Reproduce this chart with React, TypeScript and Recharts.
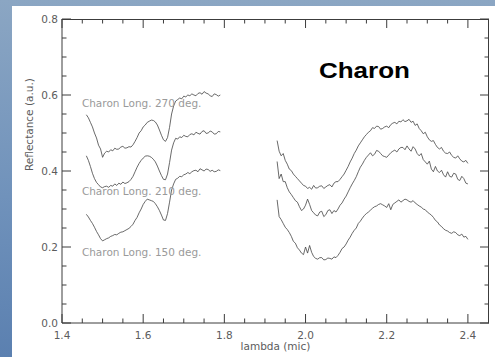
import React from "react";
import {
  LineChart,
  Line,
  XAxis,
  YAxis,
  ReferenceDot,
} from "recharts";

// wavelength grids (micron) for the H band and K band pieces
const H_LAMBDA = [
  1.46, 1.465, 1.47, 1.475, 1.48, 1.485, 1.49, 1.495, 1.5, 1.505,
  1.51, 1.515, 1.52, 1.525, 1.53, 1.535, 1.54, 1.545, 1.55, 1.555,
  1.56, 1.565, 1.57, 1.575, 1.58, 1.585, 1.59, 1.595, 1.6, 1.605,
  1.61, 1.615, 1.62, 1.625, 1.63, 1.635, 1.64, 1.645, 1.65, 1.655,
  1.66, 1.665, 1.67, 1.675, 1.68, 1.685, 1.69, 1.695, 1.7, 1.705,
  1.71, 1.715, 1.72, 1.725, 1.73, 1.735, 1.74, 1.745, 1.75, 1.755,
  1.76, 1.765, 1.77, 1.775, 1.78, 1.785, 1.79,
];
const K_LAMBDA = [
  1.93, 1.935, 1.94, 1.945, 1.95, 1.955, 1.96, 1.965, 1.97, 1.975,
  1.98, 1.985, 1.99, 1.995, 2.0, 2.005, 2.01, 2.015, 2.02, 2.025,
  2.03, 2.035, 2.04, 2.045, 2.05, 2.055, 2.06, 2.065, 2.07, 2.075,
  2.08, 2.085, 2.09, 2.095, 2.1, 2.105, 2.11, 2.115, 2.12, 2.125,
  2.13, 2.135, 2.14, 2.145, 2.15, 2.155, 2.16, 2.165, 2.17, 2.175,
  2.18, 2.185, 2.19, 2.195, 2.2, 2.205, 2.21, 2.215, 2.22, 2.225,
  2.23, 2.235, 2.24, 2.245, 2.25, 2.255, 2.26, 2.265, 2.27, 2.275,
  2.28, 2.285, 2.29, 2.295, 2.3, 2.305, 2.31, 2.315, 2.32, 2.325,
  2.33, 2.335, 2.34, 2.345, 2.35, 2.355, 2.36, 2.365, 2.37, 2.375,
  2.38, 2.385, 2.39, 2.395, 2.4,
];

// reflectance, longitude 270 (top spectrum)
const H_270 = [
  0.548, 0.54, 0.528, 0.516, 0.5, 0.487, 0.468, 0.458, 0.436, 0.447,
  0.452, 0.45, 0.456, 0.453, 0.46, 0.457, 0.458, 0.463, 0.465, 0.46,
  0.461, 0.464, 0.463, 0.469, 0.478, 0.488, 0.5, 0.506, 0.516, 0.521,
  0.528, 0.531, 0.534, 0.533, 0.529, 0.521, 0.508, 0.494, 0.482, 0.478,
  0.488, 0.515, 0.55, 0.571, 0.584, 0.588, 0.592, 0.59, 0.597, 0.595,
  0.6, 0.598, 0.603, 0.6, 0.598, 0.604, 0.606, 0.602, 0.609, 0.605,
  0.603, 0.598, 0.596, 0.603, 0.601, 0.597, 0.6,
];
const K_270 = [
  0.48, 0.452, 0.44, 0.446, 0.428, 0.418, 0.405, 0.401, 0.392, 0.386,
  0.38, 0.374, 0.368, 0.362, 0.36, 0.354, 0.357, 0.352, 0.362, 0.355,
  0.356, 0.36, 0.361, 0.354, 0.358, 0.362, 0.364, 0.358, 0.368, 0.372,
  0.372, 0.378, 0.385, 0.392, 0.402, 0.412, 0.424, 0.434, 0.446, 0.455,
  0.466, 0.474, 0.482, 0.49, 0.496, 0.502, 0.506, 0.514, 0.512, 0.518,
  0.517, 0.51, 0.512, 0.516, 0.518, 0.514, 0.522, 0.526, 0.528, 0.524,
  0.531, 0.529, 0.535, 0.53, 0.532, 0.536, 0.528, 0.531, 0.52, 0.524,
  0.512, 0.506, 0.498, 0.502, 0.49, 0.482, 0.478, 0.48, 0.47, 0.462,
  0.458, 0.462, 0.452, 0.447, 0.446, 0.45, 0.441, 0.436, 0.434, 0.44,
  0.432, 0.426, 0.424, 0.428, 0.42,
];

// reflectance, longitude 210
const H_210 = [
  0.44, 0.428, 0.412, 0.394, 0.38, 0.37, 0.364, 0.358, 0.356, 0.359,
  0.36, 0.357, 0.362, 0.36, 0.366, 0.362, 0.368, 0.365, 0.371, 0.367,
  0.369, 0.372, 0.378, 0.386, 0.398, 0.41, 0.42, 0.428, 0.434, 0.439,
  0.44, 0.439, 0.436, 0.431, 0.424, 0.413, 0.4, 0.388, 0.378, 0.377,
  0.392, 0.422, 0.455, 0.474, 0.486, 0.484, 0.49, 0.488, 0.494, 0.491,
  0.49, 0.496, 0.498, 0.495, 0.502, 0.499, 0.497, 0.504, 0.506, 0.499,
  0.5, 0.505, 0.503, 0.497, 0.498, 0.504, 0.503,
];
const K_210 = [
  0.425, 0.38, 0.392, 0.372, 0.372, 0.356, 0.345, 0.338, 0.33, 0.322,
  0.318, 0.306, 0.296, 0.3, 0.31, 0.326, 0.312, 0.296, 0.29, 0.284,
  0.282, 0.292, 0.294, 0.28, 0.285, 0.296, 0.298, 0.288, 0.296, 0.292,
  0.3, 0.31, 0.316, 0.326, 0.334, 0.345, 0.356, 0.366, 0.375, 0.385,
  0.398, 0.41, 0.418, 0.428, 0.436, 0.442, 0.448, 0.44, 0.444, 0.454,
  0.452, 0.446, 0.44, 0.438, 0.436, 0.442, 0.448, 0.452, 0.455, 0.45,
  0.458, 0.462, 0.462, 0.456, 0.466, 0.458, 0.452, 0.464, 0.458, 0.446,
  0.44, 0.446, 0.43, 0.424, 0.418, 0.426, 0.405, 0.398, 0.412, 0.4,
  0.396, 0.402, 0.39, 0.384, 0.398, 0.386, 0.384, 0.394, 0.392, 0.378,
  0.375, 0.386, 0.38, 0.368, 0.366,
];

// reflectance, longitude 150 (bottom spectrum)
const H_150 = [
  0.286, 0.279, 0.27, 0.262, 0.252, 0.241, 0.232, 0.222, 0.216, 0.219,
  0.222, 0.224, 0.228, 0.23, 0.233, 0.232, 0.236, 0.239, 0.24, 0.243,
  0.246, 0.249, 0.254, 0.26, 0.27, 0.278, 0.29, 0.3, 0.312, 0.32,
  0.326, 0.324, 0.322, 0.32, 0.314, 0.306, 0.296, 0.284, 0.271, 0.27,
  0.288, 0.318, 0.35, 0.366, 0.378, 0.381, 0.386, 0.385, 0.39, 0.392,
  0.396, 0.393, 0.398, 0.401, 0.402, 0.398, 0.406, 0.403, 0.4, 0.405,
  0.404, 0.399, 0.402, 0.398, 0.399, 0.403, 0.401,
];
const K_150 = [
  0.324, 0.28, 0.272, 0.262, 0.252, 0.246, 0.238, 0.228, 0.215, 0.21,
  0.198, 0.192, 0.184, 0.18, 0.2, 0.184, 0.204, 0.186, 0.175, 0.17,
  0.168, 0.172, 0.172, 0.166, 0.167, 0.171, 0.17, 0.168, 0.174, 0.172,
  0.178, 0.186, 0.196, 0.2, 0.208, 0.218, 0.226, 0.236, 0.244, 0.25,
  0.262, 0.268, 0.276, 0.283, 0.288, 0.292, 0.297, 0.302, 0.306, 0.308,
  0.312, 0.314, 0.311, 0.308, 0.304, 0.314, 0.298, 0.312, 0.316, 0.32,
  0.324, 0.318, 0.322, 0.326, 0.324, 0.32, 0.318, 0.322, 0.316, 0.312,
  0.308, 0.305, 0.3, 0.298, 0.292, 0.288, 0.284, 0.278, 0.27, 0.266,
  0.258, 0.254, 0.248, 0.244, 0.242, 0.238, 0.236, 0.24, 0.238, 0.232,
  0.23, 0.234, 0.226, 0.228, 0.22,
];

const X_TICKS = [
  1.4, 1.45, 1.5, 1.55, 1.6, 1.65, 1.7, 1.75, 1.8, 1.85, 1.9, 1.95, 2.0,
  2.05, 2.1, 2.15, 2.2, 2.25, 2.3, 2.35, 2.4,
];
const Y_TICKS = [
  0, 0.05, 0.1, 0.15, 0.2, 0.25, 0.3, 0.35, 0.4, 0.45, 0.5, 0.55, 0.6, 0.65,
  0.7, 0.75, 0.8,
];

const LABELS = [
  { text: "Charon Long. 270 deg.", x: 1.449, y: 0.568 },
  { text: "Charon Long. 210 deg.", x: 1.449, y: 0.337 },
  { text: "Charon Long. 150 deg.", x: 1.449, y: 0.176 },
];

const rows = [
  ...H_LAMBDA.map((lambda, i) => ({
    lambda,
    l270: H_270[i],
    l210: H_210[i],
    l150: H_150[i],
  })),
  // break between the two bands
  { lambda: 1.86, l270: null, l210: null, l150: null },
  ...K_LAMBDA.map((lambda, i) => ({
    lambda,
    l270: K_270[i],
    l210: K_210[i],
    l150: K_150[i],
  })),
];

const X_DOMAIN = [1.4, 2.452];
const Y_DOMAIN = [0, 0.8];

// chart geometry, used to mirror the ticks onto the top and right edges
const W = 495;
const H = 357;
const MARGIN = { top: 19, right: 6, bottom: 4, left: 12 };
const X_AXIS_H = 30;
const Y_AXIS_W = 50;
const PLOT_LEFT = MARGIN.left + Y_AXIS_W;
const PLOT_W = W - PLOT_LEFT - MARGIN.right;
const PLOT_H = H - MARGIN.top - MARGIN.bottom - X_AXIS_H;

const AXIS = "#3c3c3c";
const TEXT = "#5c5c5c";
const FONT = "'DejaVu Sans', sans-serif";

const isMajor = (v: number) => Math.abs(v * 5 - Math.round(v * 5)) < 1e-6;
const tickLen = (v: number) => (isMajor(v) ? 9 : 4.5);

// IDL style ticks: pointing into the plot on both edges, long on labelled values
const XTick = (props: any) => {
  const { x, y, payload } = props;
  const len = tickLen(payload.value);
  const top = y - PLOT_H;
  return (
    <g>
      <path d={`M${x},${y}V${y - len}M${x},${top}V${top + len}`} stroke={AXIS} strokeWidth={1} fill="none" />
      {isMajor(payload.value) && (
        <text x={x} y={y + 16} textAnchor="middle" fill={TEXT} fontSize={10.5} fontFamily={FONT}>
          {payload.value.toFixed(1)}
        </text>
      )}
    </g>
  );
};

const YTick = (props: any) => {
  const { x, y, payload } = props;
  const len = tickLen(payload.value);
  const right = x + PLOT_W;
  return (
    <g>
      <path d={`M${x},${y}H${x + len}M${right},${y}H${right - len}`} stroke={AXIS} strokeWidth={1} fill="none" />
      {isMajor(payload.value) && (
        <text x={x - 4} y={y + 4} textAnchor="end" fill={TEXT} fontSize={10.5} fontFamily={FONT}>
          {payload.value.toFixed(1)}
        </text>
      )}
    </g>
  );
};

const annotation = (fill: string, size: number, bold?: boolean, len?: number) =>
  (props: any) => {
    const { viewBox, value } = props;
    return (
      <text
        x={viewBox.x}
        y={viewBox.y}
        fill={fill}
        fontSize={size}
        fontWeight={bold ? "bold" : "normal"}
        fontFamily={bold ? "'Liberation Sans', Arial, sans-serif" : FONT}
        textLength={len}
        lengthAdjust={len ? "spacingAndGlyphs" : undefined}
      >
        {value}
      </text>
    );
  };

export default function App() {
  return (
    <div
      style={{
        position: "fixed",
        left: 0,
        top: 0,
        width: W,
        height: H,
        background: "linear-gradient(180deg, #8ba6c3 0%, #7092bb 55%, #5b80b0 100%)",
        overflow: "hidden",
      }}
    >
      <div
        style={{
          position: "absolute",
          left: 12,
          top: 6,
          width: W - 12,
          height: H - 6,
          background: "#fff",
        }}
      />
      <div style={{ position: "absolute", left: 0, top: 0 }}>
        <LineChart width={W} height={H} data={rows} margin={MARGIN}>
          <XAxis
            dataKey="lambda"
            type="number"
            domain={X_DOMAIN}
            ticks={X_TICKS}
            interval={0}
            allowDataOverflow
            stroke={AXIS}
            tickSize={0}
            tickMargin={0}
            tickLine={false}
            height={X_AXIS_H}
            tick={<XTick />}
            label={{
              value: "lambda (mic)",
              position: "insideBottom",
              offset: 3,
              fill: TEXT,
              fontSize: 10.5,
              fontFamily: FONT,
            }}
          />
          <YAxis
            type="number"
            domain={Y_DOMAIN}
            ticks={Y_TICKS}
            interval={0}
            stroke={AXIS}
            tickSize={0}
            tickMargin={0}
            tickLine={false}
            width={Y_AXIS_W}
            tick={<YTick />}
            label={{
              value: "Reflectance (a.u.)",
              angle: -90,
              position: "insideLeft",
              offset: 17,
              fill: TEXT,
              fontSize: 10.5,
              fontFamily: FONT,
            }}
          />
          <Line dataKey="l270" type="linear" stroke="#444" strokeWidth={0.8} dot={false} isAnimationActive={false} />
          <Line dataKey="l210" type="linear" stroke="#444" strokeWidth={0.8} dot={false} isAnimationActive={false} />
          <Line dataKey="l150" type="linear" stroke="#444" strokeWidth={0.8} dot={false} isAnimationActive={false} />
          {LABELS.map((l) => (
            <ReferenceDot
              key={l.text}
              x={l.x}
              y={l.y}
              r={0}
              fill="none"
              stroke="none"
              label={{ value: l.text, content: annotation("#9a9a9a", 10.5) }}
            />
          ))}
          <ReferenceDot
            x={2.033}
            y={0.6455}
            r={0}
            fill="none"
            stroke="none"
            label={{ value: "Charon", content: annotation("#000", 22, true, 91) }}
          />
        </LineChart>
      </div>
      {/* top and right edges of the plot box */}
      <div
        style={{
          position: "absolute",
          left: PLOT_LEFT,
          top: MARGIN.top,
          width: PLOT_W,
          height: PLOT_H,
          borderTop: `1px solid ${AXIS}`,
          borderRight: `1px solid ${AXIS}`,
          boxSizing: "border-box",
          pointerEvents: "none",
        }}
      />
    </div>
  );
}
